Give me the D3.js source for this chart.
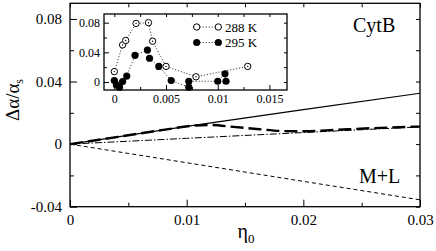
<!DOCTYPE html>
<html>
<head>
<meta charset="utf-8">
<script src="https://cdn.jsdelivr.net/npm/d3@7"></script>
<style>
  body { margin: 0; background: #fff; }
  svg { display: block; font-family: 'Liberation Serif', 'Times New Roman', serif; }
</style>
</head>
<body>
<div id="chart"></div>
<script>
// main panel: curves vs eta0
var etaMain = [0, 0.01, 0.02, 0.03];
var cytSolid = [0, 0.0113, 0.0221, 0.0325];
var mlDashed = [0, -0.0119, -0.0238, -0.0356];
var dashDot = [0, 0.0037, 0.0074, 0.011];
var longDashEta = [0, 0.004, 0.008, 0.0105, 0.012, 0.014, 0.016, 0.0185, 0.02, 0.023, 0.026, 0.03];
var longDash = [0, 0.0045, 0.0091, 0.0117, 0.0122, 0.011, 0.0097, 0.0083, 0.0082, 0.0092, 0.0102, 0.0112];

// inset: measured points
var t288x = [0, 0.0008, 0.0011, 0.0021, 0.0033, 0.0037, 0.005, 0.0079, 0.0129];
var t288y = [0.014, 0.050, 0.056, 0.079, 0.080, 0.055, 0.021, 0.007, 0.021];
var t295x = [0, 0.0002, 0.0005, 0.0008, 0.0012, 0.002, 0.0032, 0.0034, 0.0043, 0.0055, 0.0072, 0.0072, 0.01, 0.0107, 0.0108];
var t295y = [0.002, -0.004, -0.007, 0.0005, 0.008, 0.036, 0.043, 0.032, 0.021, 0.002, -0.007, 0.001, 0.001, 0.011, 0.001];

var xTicks = [0, 0.01, 0.02, 0.03];
var xMinor = [0.005, 0.015, 0.025];
var yTicks = [-0.04, 0, 0.04, 0.08];
var yMinor = [-0.02, 0.02, 0.06];
var insetXTicks = [0, 0.005, 0.01, 0.015];
var insetXMinor = [0.0025, 0.0075, 0.0125];
var insetYTicks = [0, 0.04, 0.08];
var insetYMinor = [0.02, 0.06];

var width = 436, height = 251;
var svg = d3.select('#chart').append('svg')
  .attr('width', width).attr('height', height);

var x = d3.scaleLinear().domain([0, 0.03]).range([70, 420]);
var y = d3.scaleLinear().domain([-0.04, 0.09]).range([206.7, 3.3]);

function fmt(d) { return d === 0 ? '0' : String(d).replace('-', '-'); }

function addAxes(g, xs, ys, xt, xm, yt, ym, big, small, pad, fsize) {
  var x0 = xs.range()[0], x1 = xs.range()[1], y0 = ys.range()[0], y1 = ys.range()[1];
  g.append('g').attr('transform', 'translate(0,' + y0 + ')')
    .call(d3.axisBottom(xs).tickValues(xt).tickSize(-big).tickPadding(pad).tickFormat(fmt));
  g.append('g').attr('transform', 'translate(0,' + y0 + ')')
    .call(d3.axisBottom(xs).tickValues(xm).tickSize(-small).tickFormat(''));
  g.append('g').attr('transform', 'translate(0,' + y1 + ')')
    .call(d3.axisTop(xs).tickValues(xt.concat(xm)).tickSize(-small).tickFormat(''));
  g.append('g').attr('transform', 'translate(' + x0 + ',0)')
    .call(d3.axisLeft(ys).tickValues(yt).tickSize(-big).tickPadding(pad).tickFormat(fmt));
  g.append('g').attr('transform', 'translate(' + x0 + ',0)')
    .call(d3.axisLeft(ys).tickValues(ym).tickSize(-small).tickFormat(''));
  g.append('g').attr('transform', 'translate(' + x1 + ',0)')
    .call(d3.axisRight(ys).tickValues(yt.concat(ym)).tickSize(-small).tickFormat(''));
  g.selectAll('.domain').remove();
  g.selectAll('.tick line').attr('stroke', '#000').attr('stroke-width', 1);
  g.selectAll('.tick text').attr('fill', '#000').style('font-size', fsize + 'px')
    .style('font-family', "'Liberation Serif', 'Times New Roman', serif");
  g.append('rect').attr('x', x0).attr('y', y1).attr('width', x1 - x0).attr('height', y0 - y1)
    .attr('fill', 'none').attr('stroke', '#000').attr('stroke-width', 1.3);
}

var main = svg.append('g');
addAxes(main, x, y, xTicks, xMinor, yTicks, yMinor, 7, 4, 8, 15);

var line = d3.line().x(function(d) { return x(d[0]); }).y(function(d) { return y(d[1]); });
var curve = d3.line().x(function(d) { return x(d[0]); }).y(function(d) { return y(d[1]); })
  .curve(d3.curveMonotoneX);

function pairs(xs, ys) { return xs.map(function(v, i) { return [v, ys[i]]; }); }

main.append('path').attr('d', line(pairs(etaMain, cytSolid)))
  .attr('fill', 'none').attr('stroke', '#000').attr('stroke-width', 1.2);
main.append('path').attr('d', line(pairs(etaMain, mlDashed)))
  .attr('fill', 'none').attr('stroke', '#000').attr('stroke-width', 1)
  .attr('stroke-dasharray', '4,3');
main.append('path').attr('d', line(pairs(etaMain, dashDot)))
  .attr('fill', 'none').attr('stroke', '#000').attr('stroke-width', 1)
  .attr('stroke-dasharray', '7,2,1.5,2');
main.append('path').attr('d', curve(pairs(longDashEta, longDash)))
  .attr('fill', 'none').attr('stroke', '#000').attr('stroke-width', 2.4)
  .attr('stroke-dasharray', '13,5');

main.append('text').attr('x', 353).attr('y', 32).style('font-size', '20px').text('CytB');
main.append('text').attr('x', 359).attr('y', 182.5).style('font-size', '20px').text('M+L');

// axis titles
var yl = svg.append('text').attr('transform', 'translate(19,100) rotate(-90)')
  .attr('text-anchor', 'middle').style('font-size', '19px');
yl.append('tspan').text('\u0394\u03b1/\u03b1');
yl.append('tspan').attr('dy', 4).style('font-size', '12px').text('s');

var xl = svg.append('text').attr('x', 246).attr('y', 238)
  .attr('text-anchor', 'middle').style('font-size', '20px');
xl.append('tspan').text('\u03b7');
xl.append('tspan').attr('dy', 5).style('font-size', '13px').text('0');

// inset
var ix = d3.scaleLinear().domain([-0.001, 0.0167]).range([104, 287]);
var iy = d3.scaleLinear().domain([-0.0108, 0.0917]).range([90, 14]);
var inset = svg.append('g');
inset.append('rect').attr('x', 104).attr('y', 14).attr('width', 183).attr('height', 76).attr('fill', '#fff');
addAxes(inset, ix, iy, insetXTicks, insetXMinor, insetYTicks, insetYMinor, 5, 3, 4, 12);

var iline = d3.line().x(function(d) { return ix(d[0]); }).y(function(d) { return iy(d[1]); });
var p288 = pairs(t288x, t288y), p295 = pairs(t295x, t295y);

inset.append('path').attr('d', iline(p288)).attr('fill', 'none')
  .attr('stroke', '#000').attr('stroke-width', 0.9).attr('stroke-dasharray', '1,2');
inset.append('path').attr('d', iline(p295)).attr('fill', 'none')
  .attr('stroke', '#000').attr('stroke-width', 0.9).attr('stroke-dasharray', '1,2');

inset.selectAll('.open').data(p288).enter().append('circle')
  .attr('cx', function(d) { return ix(d[0]); }).attr('cy', function(d) { return iy(d[1]); })
  .attr('r', 3.2).attr('fill', '#fff').attr('stroke', '#000').attr('stroke-width', 1);
inset.selectAll('.dot').data(p288).enter().append('circle')
  .attr('cx', function(d) { return ix(d[0]); }).attr('cy', function(d) { return iy(d[1]); })
  .attr('r', 0.7).attr('fill', '#000');
inset.selectAll('.fill').data(p295).enter().append('circle')
  .attr('cx', function(d) { return ix(d[0]); }).attr('cy', function(d) { return iy(d[1]); })
  .attr('r', 3.6).attr('fill', '#000');

// legend
var legend = [
  {label: '288 K', open: true, y: 27},
  {label: '295 K', open: false, y: 42.5}
];
legend.forEach(function(l) {
  inset.append('line').attr('x1', 196.7).attr('x2', 218.3).attr('y1', l.y).attr('y2', l.y)
    .attr('stroke', '#000').attr('stroke-width', 0.9).attr('stroke-dasharray', '1,2');
  [196.7, 218.3].forEach(function(cx) {
    inset.append('circle').attr('cx', cx).attr('cy', l.y).attr('r', l.open ? 3.2 : 3.6)
      .attr('fill', l.open ? '#fff' : '#000').attr('stroke', '#000').attr('stroke-width', l.open ? 1 : 0);
  });
  inset.append('text').attr('x', 225).attr('y', l.y + 4.5).style('font-size', '13px').text(l.label);
});
</script>
</body>
</html>
